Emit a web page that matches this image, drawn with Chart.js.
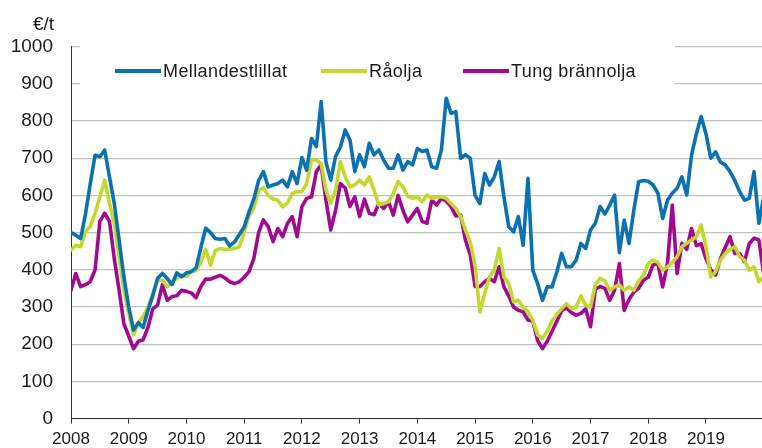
<!DOCTYPE html>
<html>
<head>
<meta charset="utf-8">
<script src="https://cdn.jsdelivr.net/npm/chart.js@4.4.1/dist/chart.umd.min.js"></script>
<style>
html,body{margin:0;padding:0;background:#fff;}
#wrap{width:762px;height:448px;position:relative;}
</style>
</head>
<body>
<div id="wrap"><canvas id="c" width="762" height="448"></canvas></div>
<script>
// Tick labels (one per January), Jan 2008 .. Jan 2020 monthly
const yearLabels = ['2008','2009','2010','2011','2012','2013','2014','2015','2016','2017','2018','2019'];
const unitLabel = '€/t';
const seriesNames = ['Mellandestlillat', 'Råolja', 'Tung brännolja'];

const mellandestillat = [
  500, 493, 484, 549, 631, 708, 704, 722, 650, 578, 480, 381,
  300, 238, 258, 245, 291, 330, 377, 390, 377, 360, 392, 381,
  392, 395, 405, 460, 512, 500, 484, 482, 484, 464, 475, 495,
  515, 555, 590, 640, 664, 623, 628, 632, 641, 623, 664, 632,
  702, 668, 753, 731, 852, 690, 641, 705, 730, 776, 749, 664,
  709, 677, 740, 709, 722, 695, 673, 673, 709, 668, 691, 682,
  726, 718, 722, 677, 673, 722, 861, 821, 825, 700, 709, 700,
  600, 578, 659, 628, 650, 691, 596, 516, 502, 543, 466, 646,
  399, 363, 318, 354, 354, 394, 444, 408, 408, 426, 471, 457,
  507, 525, 570, 550, 574, 601, 446, 534, 471, 560, 637, 640,
  638, 628, 606, 538, 587, 606, 619, 650, 601, 708, 765, 812,
  766, 700, 717, 690, 682, 664, 640, 610, 587, 592, 664, 525,
  596
];
const raolja = [
  453, 466, 462, 502, 516, 552, 596, 641, 578, 525, 435, 345,
  282, 225, 258, 275, 300, 336, 372, 372, 354, 368, 377, 386,
  382, 395, 398, 420, 455, 412, 452, 457, 455, 455, 457, 462,
  500, 545, 565, 615, 620, 600, 590, 587, 569, 580, 605, 610,
  610, 632, 695, 695, 686, 614, 578, 614, 691, 650, 623, 628,
  641, 628, 650, 614, 574, 578, 583, 605, 637, 623, 598, 592,
  596, 583, 601, 592, 596, 596, 592, 578, 565, 543, 507, 475,
  410, 287, 336, 381, 399, 457, 381, 363, 314, 318, 300, 287,
  264, 225, 215, 235, 262, 280, 295, 309, 296, 300, 330, 305,
  300, 360, 377, 370, 345, 354, 359, 345, 354, 345, 370, 385,
  417, 426, 420, 399, 408, 420, 435, 462, 471, 480, 489, 520,
  462, 381, 395, 426, 444, 455, 462, 435, 426, 399, 408, 368,
  381
];
const tungBrannolja = [
  345, 390, 355, 360, 368, 400, 530, 552, 530, 430, 345, 255,
  222, 188, 208, 212, 245, 295, 305, 360, 318, 328, 330, 345,
  342, 338, 325, 355, 375, 375, 380, 385, 378, 368, 363, 368,
  380, 395, 430, 500, 534, 516, 476, 511, 489, 525, 543, 489,
  570, 592, 596, 664, 682, 587, 507, 560, 632, 620, 570, 596,
  543, 590, 552, 548, 578, 565, 583, 547, 600, 560, 529, 547,
  565, 530, 525, 587, 574, 592, 585, 570, 545, 547, 480, 440,
  355, 355, 368, 377, 368, 408, 354, 330, 300, 291, 287, 265,
  262, 210, 188, 208, 235, 262, 290, 298, 285, 278, 283, 295,
  247, 348, 355, 350, 318, 345, 417, 291, 320, 340, 350, 372,
  380, 413, 417, 354, 417, 574, 390, 471, 455, 511, 465, 470,
  430, 400, 386, 430, 460, 489, 444, 444, 422, 470, 485, 480,
  390
];

const colors = ['#0a72b1', '#c3d72d', '#a3098e'];
const FONT = '"Liberation Sans", Arial, Helvetica, sans-serif';
Chart.defaults.font.family = FONT;
Chart.defaults.color = '#1a1a1a';

const toPoints = arr => arr.map((v, i) => ({x: i, y: v}));
const seriesValues = [mellandestillat, raolja, tungBrannolja];

const legendInside = {
  id: 'legendInside',
  beforeDatasetsDraw(chart) {
    const ctx = chart.ctx;
    ctx.save();
    ctx.fillStyle = '#ffffff';
    ctx.fillRect(80, 38, 595, 58);
    const starts = [115, 321, 463];
    const y = 71;
    ctx.font = '18px ' + FONT;
    if ('letterSpacing' in ctx) ctx.letterSpacing = '0.4px';
    ctx.textBaseline = 'middle';
    ctx.textAlign = 'left';
    chart.data.datasets.forEach((ds, i) => {
      const x = starts[i];
      ctx.strokeStyle = ds.borderColor;
      ctx.lineWidth = 4;
      ctx.lineCap = 'butt';
      ctx.beginPath();
      ctx.moveTo(x, y);
      ctx.lineTo(x + 46, y);
      ctx.stroke();
      ctx.fillStyle = '#1a1a1a';
      ctx.fillText(ds.label, x + 48, y + 1);
    });
    ctx.restore();
  },
  afterDraw(chart) {
    const ctx = chart.ctx;
    ctx.save();
    ctx.font = '19px ' + FONT;
    ctx.fillStyle = '#1a1a1a';
    ctx.textBaseline = 'middle';
    ctx.textAlign = 'left';
    ctx.fillText(unitLabel, 33, 24.5);
    ctx.restore();
  }
};

new Chart(document.getElementById('c'), {
  type: 'line',
  data: {
    datasets: seriesValues.map((vals, i) => ({
      label: seriesNames[i],
      data: toPoints(vals),
      borderColor: colors[i],
      backgroundColor: colors[i],
      borderWidth: 3.6,
      pointRadius: 0,
      tension: 0,
      borderJoinStyle: 'round',
      borderCapStyle: 'round',
      fill: false
    }))
  },
  options: {
    responsive: false,
    devicePixelRatio: 1,
    animation: false,
    events: [],
    layout: { padding: { top: 46.6, left: 0, right: 0, bottom: 0 } },
    plugins: { legend: { display: false }, tooltip: { enabled: false }, title: { display: false } },
    scales: {
      x: {
        type: 'linear',
        min: 0,
        max: 143.65,
        afterFit(scale) { scale.height = 29.4; },
        ticks: {
          stepSize: 12,
          includeBounds: false,
          autoSkip: false,
          maxRotation: 0,
          padding: 6,
          font: { size: 17 },
          color: '#1a1a1a',
          callback: v => (v % 12 === 0 && yearLabels[v / 12]) ? yearLabels[v / 12] : ''
        },
        grid: { drawOnChartArea: false, drawTicks: true, tickLength: 5, color: '#333333', lineWidth: 1 },
        border: { display: true, color: '#333333', width: 1 }
      },
      y: {
        min: 0,
        max: 1000,
        afterFit(scale) { scale.width = 71; },
        ticks: { stepSize: 100, padding: 18, font: { size: 19 }, color: '#1a1a1a', callback: v => String(v) },
        grid: { drawTicks: false, color: '#c2c2c2', lineWidth: 1.2 },
        border: { display: true, color: '#333333', width: 1 }
      }
    }
  },
  plugins: [legendInside]
});
</script>
</body>
</html>
